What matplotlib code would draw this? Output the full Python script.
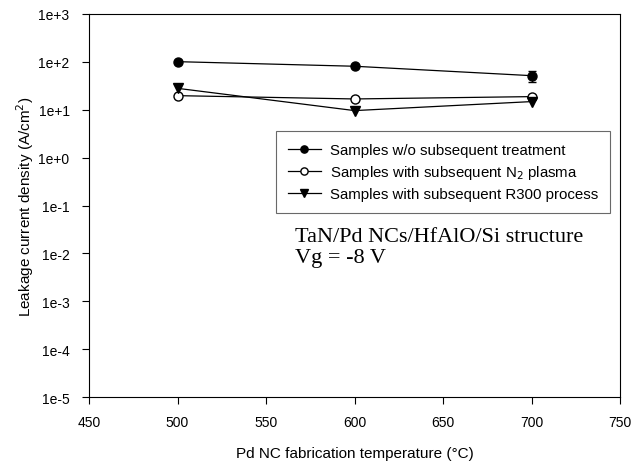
import numpy as np
import matplotlib
matplotlib.use('Agg')
import matplotlib.pyplot as plt

plt.rcParams['font.family'] = ['Liberation Sans', 'DejaVu Sans']

temps = [500, 600, 700]
no_treat = [101, 81, 51.5]
no_treat_err = [0, 0, 14]
n2_plasma = [19.7, 16.8, 18.8]
r300 = [28, 9.6, 14.8]

labels = ['Samples w/o subsequent treatment',
          'Samples with subsequent N$_2$ plasma',
          'Samples with subsequent R300 process']
yticks = [1e-5, 1e-4, 1e-3, 1e-2, 1e-1, 1e0, 1e1, 1e2, 1e3]
ytick_labels = ['1e-5', '1e-4', '1e-3', '1e-2', '1e-1', '1e+0', '1e+1', '1e+2', '1e+3']
xticks = [450, 500, 550, 600, 650, 700, 750]

fig = plt.figure(figsize=(6.34, 4.64), dpi=100)
ax = fig.add_axes([0.1404, 0.1422, 0.8376, 0.8255])

ax.errorbar(temps, no_treat, yerr=no_treat_err, color='black', linewidth=0.9,
            capsize=3, elinewidth=0.9, fmt='none')
h1, = ax.plot(temps, no_treat, color='black', marker='o', markersize=6.5,
              linewidth=0.9, label=labels[0])
h2, = ax.plot(temps, n2_plasma, color='black', marker='o', markerfacecolor='white',
              markersize=6.5, linewidth=0.9, label=labels[1])
h3, = ax.plot(temps, r300, color='black', marker='v', markersize=7,
              linewidth=0.9, label=labels[2])

ax.set_yscale('log')
ax.set_ylim(1e-5, 1e3)
ax.set_xlim(450, 750)
ax.set_yticks(yticks)
ax.set_yticklabels(ytick_labels)
ax.yaxis.set_minor_locator(matplotlib.ticker.NullLocator())
ax.set_xticks(xticks)
ax.tick_params(direction='out', length=5, width=0.8, labelsize=10)
ax.tick_params(axis='y', pad=9)
ax.tick_params(axis='x', pad=8)
for s in ax.spines.values():
    s.set_linewidth(0.8)

ax.set_xlabel('Pd NC fabrication temperature (°C)', fontsize=11, labelpad=12)
ax.set_ylabel('Leakage current density (A/cm$^2$)', fontsize=11, labelpad=2)

leg = ax.legend(handles=[h1, h2, h3], loc='upper right', bbox_to_anchor=(0.981, 0.6945),
                borderaxespad=0, fontsize=10.8, frameon=True, fancybox=False,
                edgecolor='#444444', handlelength=2.2, handletextpad=0.6,
                labelspacing=0.4, borderpad=0.8, markerscale=0.8)
leg.get_frame().set_linewidth(0.8)

ax.text(0.388, 0.42, 'TaN/Pd NCs/HfAlO/Si structure', transform=ax.transAxes,
        fontsize=16, family='Liberation Serif', va='center')
ax.text(0.388, 0.364, 'Vg = -8 V', transform=ax.transAxes,
        fontsize=16, family='Liberation Serif', va='center')

fig.savefig('out.png', dpi=100)
